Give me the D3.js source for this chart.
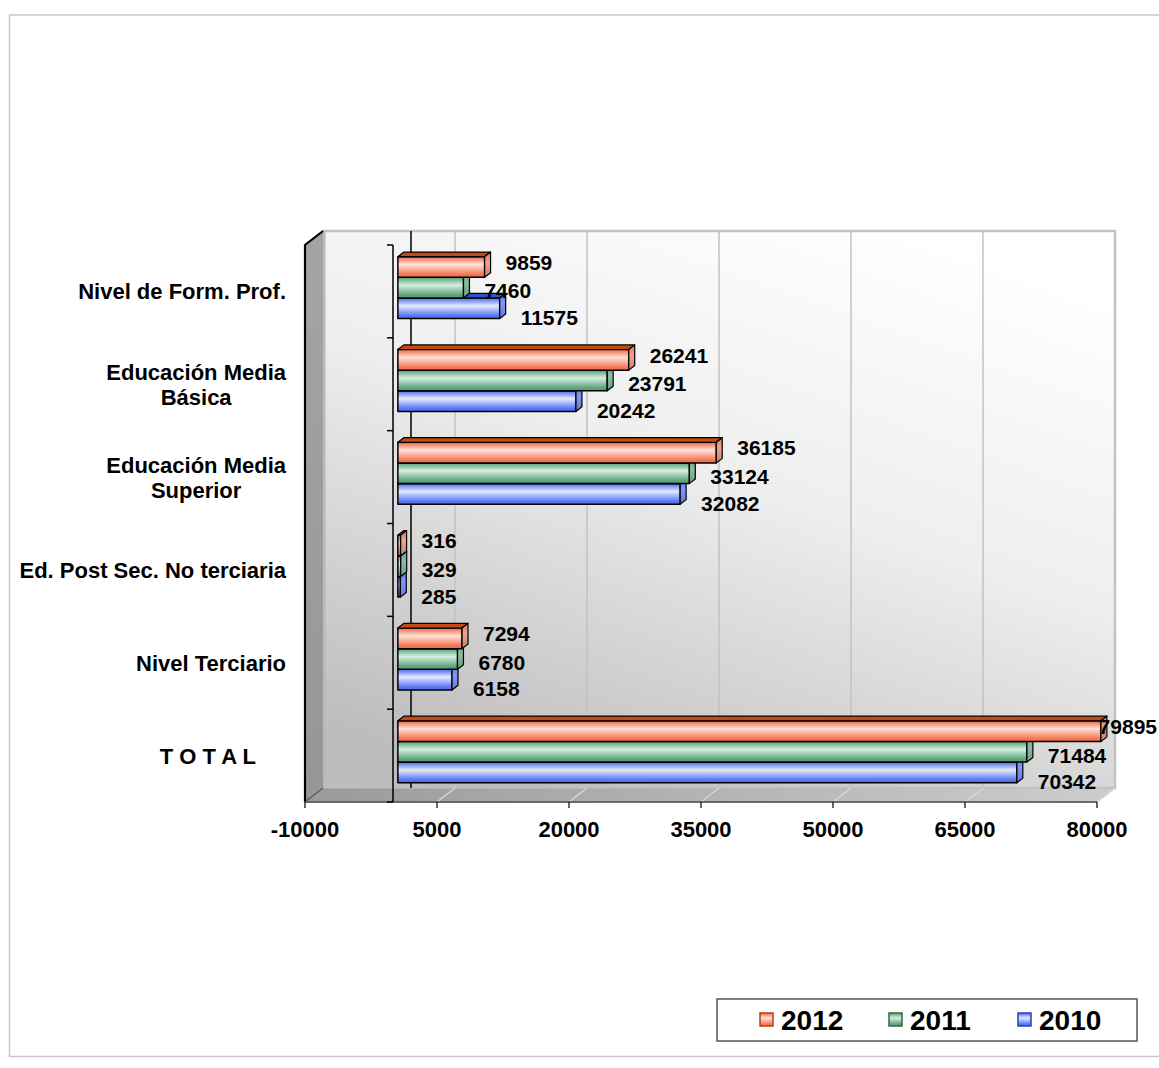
<!DOCTYPE html>
<html>
<head>
<meta charset="utf-8">
<script src="https://cdn.jsdelivr.net/npm/d3@7"></script>
<style>
  html, body { margin: 0; padding: 0; background: #fff; }
  svg { display: block; font-family: "Liberation Sans", Arial, sans-serif; font-weight: bold; }
</style>
</head>
<body>
<svg id="chart" width="1159" height="1068"></svg>
<script>
// ---- data ----
const categories = ["Nivel de Form. Prof.", "Educación Media Básica", "Educación Media Superior",
  "Ed. Post Sec. No terciaria", "Nivel Terciario", "TOTAL"];
const categoryLines = [["Nivel de Form. Prof."], ["Educación Media", "Básica"], ["Educación Media", "Superior"],
  ["Ed. Post Sec. No terciaria"], ["Nivel Terciario"], ["T O T A L     "]];
const seriesNames = ["2012", "2011", "2010"];
const values2012 = [9859, 26241, 36185, 316, 7294, 79895];
const values2011 = [7460, 23791, 33124, 329, 6780, 71484];
const values2010 = [11575, 20242, 32082, 285, 6158, 70342];
const tickValues = [-10000, 5000, 20000, 35000, 50000, 65000, 80000];

const seriesValues = [values2012, values2011, values2010];
const colors = [
  { dark: "#f06646", light: "#ffe2d8", low: "#f47a58", top: "#c24a14", side: "#c48270", edge: "#b44010" },
  { dark: "#52a076", light: "#d6eedf", low: "#5ea67e", top: "#3c7c54", side: "#6f9a80", edge: "#2e6a44" },
  { dark: "#4c68f0", light: "#e4eaff", low: "#5c78f4", top: "#3450c8", side: "#6878d8", edge: "#2840b0" }
];

// ---- geometry ----
const svg = d3.select("#chart");
const W = +svg.attr("width");
const x = d3.scaleLinear().domain([-10000, 80000]).range([305, 1097]);
const y = d3.scaleBand().domain(categories).range([245, 802]);
const DX = 18, DY = -14;                 // depth of the 3D box
const F0 = 0.27, F1 = 0.6;               // bar front/back depth fraction
const P = (px, py, f) => [px + f * DX, py + f * DY];
const poly = pts => pts.map(p => p.join(",")).join(" ");
const [xL, xR] = x.range();
const [yT, yB] = y.range();

const defs = svg.append("defs");

// back wall gradient
const wallGrad = defs.append("linearGradient").attr("id", "wall")
  .attr("x1", "0.75").attr("y1", "0").attr("x2", "0.25").attr("y2", "1");
wallGrad.append("stop").attr("offset", "0%").attr("stop-color", "#ffffff");
wallGrad.append("stop").attr("offset", "45%").attr("stop-color", "#eeeeee");
wallGrad.append("stop").attr("offset", "100%").attr("stop-color", "#bdbdbd");

const floorGrad = defs.append("linearGradient").attr("id", "floor")
  .attr("x1", "0").attr("y1", "0").attr("x2", "1").attr("y2", "0");
floorGrad.append("stop").attr("offset", "0%").attr("stop-color", "#9a9a9a");
floorGrad.append("stop").attr("offset", "100%").attr("stop-color", "#cdcdcd");

const sideGrad = defs.append("linearGradient").attr("id", "side")
  .attr("x1", "0").attr("y1", "0").attr("x2", "0").attr("y2", "1");
sideGrad.append("stop").attr("offset", "0%").attr("stop-color", "#a4a4a4");
sideGrad.append("stop").attr("offset", "100%").attr("stop-color", "#969696");

colors.forEach((c, i) => {
  const g = defs.append("linearGradient").attr("id", "bar" + i)
    .attr("x1", "0").attr("y1", "0").attr("x2", "0").attr("y2", "1");
  g.append("stop").attr("offset", "0%").attr("stop-color", c.dark);
  g.append("stop").attr("offset", "38%").attr("stop-color", c.light);
  g.append("stop").attr("offset", "85%").attr("stop-color", c.low);
  g.append("stop").attr("offset", "100%").attr("stop-color", c.dark);
  const s = defs.append("linearGradient").attr("id", "side" + i)
    .attr("x1", "0").attr("y1", "0").attr("x2", "0").attr("y2", "1");
  s.append("stop").attr("offset", "0%").attr("stop-color", c.side);
  s.append("stop").attr("offset", "40%").attr("stop-color", d3.color(c.side).brighter(0.6));
  s.append("stop").attr("offset", "100%").attr("stop-color", c.side);
});

// outer frame
svg.append("path").attr("d", "M1159,15 H9.5 V1056.5 H1159")
  .attr("fill", "none").attr("stroke", "#c8c8c8").attr("stroke-width", 1.5);

// back wall
svg.append("polygon")
  .attr("points", poly([P(xL, yT, 1), P(xR, yT, 1), P(xR, yB, 1), P(xL, yB, 1)]))
  .attr("fill", "url(#wall)").attr("stroke", "#c4c4c4").attr("stroke-width", 2.5);

// floor
svg.append("polygon")
  .attr("points", poly([P(xL, yB, 0), P(xR, yB, 0), P(xR, yB, 1), P(xL, yB, 1)]))
  .attr("fill", "url(#floor)").attr("stroke", "#bdbdbd").attr("stroke-width", 1);

// gridlines on back wall and floor
const grid = tickValues.slice(1);
svg.append("g").selectAll("line").data(grid).join("line")
  .attr("x1", d => P(x(d), yT, 1)[0]).attr("y1", d => P(x(d), yT, 1)[1])
  .attr("x2", d => P(x(d), yB, 1)[0]).attr("y2", d => P(x(d), yB, 1)[1])
  .attr("stroke", "#c2c2c2").attr("stroke-width", 1.5);
svg.append("g").selectAll("line").data(grid).join("line")
  .attr("x1", d => P(x(d), yB, 0)[0]).attr("y1", d => P(x(d), yB, 0)[1])
  .attr("x2", d => P(x(d), yB, 1)[0]).attr("y2", d => P(x(d), yB, 1)[1])
  .attr("stroke", "#d6d6d6").attr("stroke-width", 1.5);

// zero line on the back wall
svg.append("line")
  .attr("x1", P(x(0), yT, 1)[0]).attr("y1", P(x(0), yT, 1)[1])
  .attr("x2", P(x(0), yB, 1)[0]).attr("y2", P(x(0), yB, 1)[1])
  .attr("stroke", "#000").attr("stroke-width", 1.5);

// left side wall
svg.append("polygon")
  .attr("points", poly([P(xL, yT, 0), P(xL, yT, 1), P(xL, yB, 1), P(xL, yB, 0)]))
  .attr("fill", "url(#side)");
svg.append("line").attr("x1", P(xL, yT, 1)[0] + 1.5).attr("y1", P(xL, yT, 1)[1])
  .attr("x2", P(xL, yB, 1)[0] + 1.5).attr("y2", P(xL, yB, 1)[1])
  .attr("stroke", "#b8b8b8").attr("stroke-width", 2);
svg.append("path")
  .attr("d", `M${P(xL, yB, 0)} L${P(xL, yT, 0)} L${P(xL, yT, 1)}`)
  .attr("fill", "none").attr("stroke", "#000").attr("stroke-width", 2.2);
svg.append("line").attr("x1", xL).attr("y1", yB).attr("x2", P(xL, yB, 1)[0]).attr("y2", P(xL, yB, 1)[1])
  .attr("stroke", "#555").attr("stroke-width", 1.2);

// value axis (front floor edge)
svg.append("line").attr("x1", xL).attr("x2", xR).attr("y1", yB).attr("y2", yB)
  .attr("stroke", "#4a4a4a").attr("stroke-width", 1.5);
svg.append("g").selectAll("line").data(tickValues).join("line")
  .attr("x1", d => x(d)).attr("x2", d => x(d)).attr("y1", yB).attr("y2", yB + 6)
  .attr("stroke", "#000").attr("stroke-width", 1.2);
svg.append("g").selectAll("text").data(tickValues).join("text")
  .attr("x", d => x(d)).attr("y", yB + 35)
  .attr("text-anchor", "middle").attr("font-size", 22).attr("fill", "#000")
  .text(d => d);

// ---- bars ----
const nS = seriesNames.length;
const barH = y.bandwidth() * 0.667 / nS;
const groupOff = (y.bandwidth() - barH * nS) / 2;
const x0 = x(0);
const barsG = svg.append("g");
const barData = [];
categories.forEach((cat, ci) => {
  for (let s = nS - 1; s >= 0; s--) {
    barData.push({ ci, s, v: seriesValues[s][ci], yb: y(cat) + groupOff + s * barH });
  }
});
barData.forEach(d => {
  const x1 = x(d.v);
  const c = colors[d.s];
  const g = barsG.append("g");
  const f = [P(x0, d.yb, F0), P(x1, d.yb, F0), P(x1, d.yb + barH, F0), P(x0, d.yb + barH, F0)];
  g.append("polygon").attr("points", poly(f))
    .attr("fill", `url(#bar${d.s})`).attr("stroke", "#000").attr("stroke-width", 1.5)
    .attr("stroke-linejoin", "round");
  g.append("polygon").attr("points", poly([P(x0, d.yb, F0), P(x1, d.yb, F0), P(x1, d.yb, F1), P(x0, d.yb, F1)]))
    .attr("fill", c.top).attr("stroke", "#000").attr("stroke-width", 1.2).attr("stroke-linejoin", "round");
  g.append("polygon").attr("points", poly([P(x1, d.yb, F0), P(x1, d.yb, F1), P(x1, d.yb + barH, F1), P(x1, d.yb + barH, F0)]))
    .attr("fill", `url(#side${d.s})`).attr("stroke", "#000").attr("stroke-width", 1.2).attr("stroke-linejoin", "round");
});

// category axis (front, at zero)
svg.append("line").attr("x1", x0).attr("x2", x0).attr("y1", yT).attr("y2", yB)
  .attr("stroke", "#000").attr("stroke-width", 1.5);
const bounds = categories.map(c => y(c)).concat([yB]);
svg.append("g").selectAll("line").data(bounds).join("line")
  .attr("x1", x0 - 6).attr("x2", x0).attr("y1", d => d).attr("y2", d => d)
  .attr("stroke", "#000").attr("stroke-width", 1.5);

// value labels (kept inside the picture)
const labelDy = [-8, 0, 6];
svg.append("g").selectAll("text").data(barData).join("text")
  .attr("y", d => d.yb + barH / 2 + labelDy[d.s] + 7)
  .attr("font-size", 21).attr("fill", "#000")
  .text(d => d.v)
  .attr("x", function (d) {
    const w = this.getComputedTextLength();
    return Math.min(P(x(d.v), d.yb, F1)[0] + 15, W - w - 2);
  });

// category labels
const catG = svg.append("g");
categories.forEach((cat, ci) => {
  const lines = categoryLines[ci];
  const cy = y(cat) + y.bandwidth() / 2;
  const lh = 25;
  const t = catG.append("text").attr("font-size", 22).attr("fill", "#000")
    .attr("xml:space", "preserve").style("white-space", "pre");
  lines.forEach((ln, li) => {
    t.append("tspan").attr("y", cy + (li - (lines.length - 1) / 2) * lh + 8).text(ln);
  });
  if (lines.length === 1) {
    t.attr("text-anchor", "end").selectAll("tspan").attr("x", 286);
  } else {
    const w = d3.max(t.selectAll("tspan").nodes(), n => n.getComputedTextLength());
    t.attr("text-anchor", "middle").selectAll("tspan").attr("x", 286 - w / 2);
  }
});

// legend
const lg = svg.append("g");
lg.append("rect").attr("x", 717).attr("y", 999).attr("width", 420).attr("height", 42)
  .attr("fill", "#fff").attr("stroke", "#555").attr("stroke-width", 1.5);
const legX = d3.scalePoint().domain(seriesNames).range([760, 1018]);
seriesNames.forEach((name, i) => {
  const lx = legX(name);
  lg.append("rect").attr("x", lx).attr("y", 1013).attr("width", 13).attr("height", 13)
    .attr("fill", `url(#bar${i})`).attr("stroke", colors[i].edge).attr("stroke-width", 1.5);
  lg.append("text").attr("x", lx + 21).attr("y", 1030).attr("font-size", 28).attr("fill", "#000")
    .text(name);
});
</script>
</body>
</html>
